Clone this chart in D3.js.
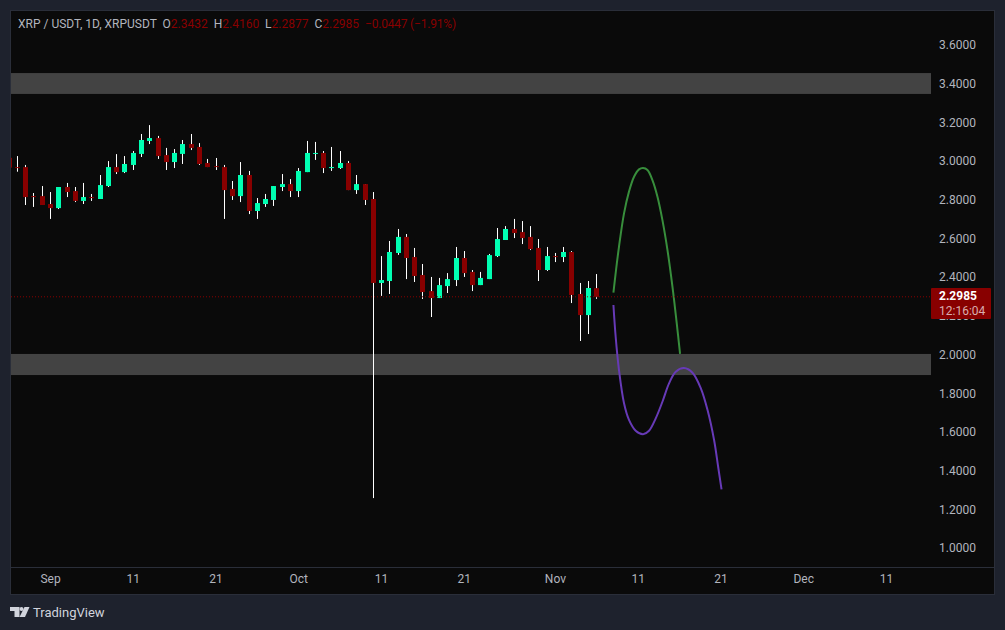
<!DOCTYPE html>
<html>
<head>
<meta charset="utf-8">
<script src="https://cdn.jsdelivr.net/npm/d3@7"></script>
<style>
    html, body { margin: 0; padding: 0; background: #1e222d; }
    svg { display: block; font-family: Roboto, sans-serif; }
    .domain { display: none; }
</style>
</head>
<body>
<svg id="chart" width="1005" height="630"></svg>
<script>
// days are counted from Sep 1, the first candle is cut off by the left edge
const firstDay = -5;
const opens = [3.017,2.969,2.969,2.819,2.819,2.778,2.757,2.866,2.845,2.794,2.814,2.804,2.871,2.969,2.943,2.980,3.037,3.104,3.119,3.031,2.995,3.037,3.088,3.073,2.990,2.974,2.969,2.856,2.819,2.928,2.742,2.778,2.799,2.866,2.881,2.845,2.943,3.037,3.042,2.964,2.964,2.990,2.850,2.881,2.804,2.370,2.380,2.525,2.608,2.504,2.411,2.328,2.292,2.354,2.385,2.499,2.427,2.359,2.390,2.509,2.592,2.649,2.633,2.608,2.551,2.437,2.509,2.504,2.530,2.313,2.204,2.3432];
const closes = [2.966,2.964,2.814,2.814,2.773,2.757,2.866,2.840,2.794,2.814,2.809,2.876,2.969,2.943,2.985,3.042,3.109,3.119,3.026,2.995,3.042,3.088,3.068,2.985,2.969,2.969,2.850,2.819,2.928,2.742,2.783,2.804,2.871,2.881,2.845,2.949,3.042,3.042,2.964,2.969,2.990,2.850,2.881,2.799,2.370,2.385,2.530,2.608,2.499,2.406,2.323,2.292,2.359,2.390,2.499,2.421,2.359,2.396,2.514,2.597,2.649,2.628,2.602,2.545,2.437,2.509,2.504,2.530,2.308,2.204,2.344,2.2985];
const highs = [3.030,3.026,2.980,2.835,2.871,2.840,2.866,2.887,2.866,2.887,2.830,2.928,3.000,3.036,3.026,3.052,3.140,3.186,3.130,3.068,3.062,3.109,3.140,3.093,3.011,3.016,2.980,2.897,2.995,2.949,2.809,2.830,2.871,2.933,2.907,2.964,3.104,3.099,3.052,3.073,3.052,3.000,2.928,2.881,2.840,2.509,2.587,2.649,2.623,2.551,2.468,2.401,2.396,2.421,2.556,2.535,2.437,2.427,2.520,2.654,2.664,2.701,2.690,2.664,2.597,2.556,2.525,2.556,2.535,2.370,2.380,2.4160];
const lows = [2.950,2.945,2.773,2.763,2.773,2.701,2.752,2.814,2.788,2.778,2.794,2.804,2.866,2.933,2.938,2.954,3.021,3.088,3.011,2.954,2.964,2.985,3.057,2.980,2.969,2.954,2.701,2.799,2.788,2.726,2.701,2.763,2.768,2.845,2.814,2.814,2.943,3.006,2.938,2.949,2.959,2.850,2.830,2.773,1.258,2.303,2.313,2.515,2.390,2.375,2.287,2.194,2.292,2.318,2.354,2.401,2.328,2.359,2.390,2.504,2.592,2.602,2.571,2.540,2.380,2.432,2.478,2.478,2.266,2.070,2.106,2.2877];

const lastPrice = 2.2985;
const countdown = "12:16:04";

// drawn zones, as [top, bottom] in price
const zones = [[3.455, 3.347], [2.003, 1.894]];

const greenDays = [68.07,68.34,68.74,69.35,69.95,70.56,71.16,71.65,72.18,72.78,73.39,73.99,74.60,75.20,75.72,76.12];
const greenPrices = [2.320,2.421,2.557,2.730,2.842,2.919,2.957,2.964,2.954,2.902,2.816,2.695,2.540,2.351,2.161,2.003];
const purpleDays = [68.07,68.34,68.74,69.35,69.95,70.76,71.65,72.37,73.18,73.99,74.79,75.60,76.60,77.62,78.63,79.44,80.23,80.72,81.13];
const purplePrices = [2.256,2.092,1.920,1.748,1.662,1.606,1.588,1.606,1.670,1.756,1.851,1.911,1.930,1.906,1.825,1.713,1.558,1.420,1.303];

const priceTicks = [3.6,3.4,3.2,3.0,2.8,2.6,2.4,2.2,2.0,1.8,1.6,1.4,1.2,1.0];
const timeTicks = [0,10,20,30,40,50,61,71,81,91,101];
const timeLabels = ["Sep","11","21","Oct","11","21","Nov","11","21","Dec","11"];

const RED = "#880000", GREEN = "#00ffb2", TEXT = "#b2b5be";
const paneLeft = 11, chartRight = 994, paneTop = 11, paneRight = 931, paneBottom = 567;

const svg = d3.select("#chart");
const x = d3.scaleLinear().domain([0, 101]).range([50, 886]);
const y = d3.scaleLinear().domain([3.6, 1.0]).range([45, 548]);

svg.append("rect").attr("x", 10.5).attr("y", 10.5).attr("width", 984).attr("height", 584)
    .attr("fill", "#0a0a0a").attr("stroke", "#2a2e39");
svg.append("clipPath").attr("id", "pane").append("rect")
    .attr("x", paneLeft).attr("y", paneTop).attr("width", paneRight - paneLeft).attr("height", paneBottom - paneTop);
svg.append("line").attr("x1", paneLeft).attr("x2", chartRight).attr("y1", paneBottom + 0.5).attr("y2", paneBottom + 0.5)
    .attr("stroke", "#2a2e39");

const pane = svg.append("g").attr("clip-path", "url(#pane)");

pane.selectAll("rect.zone").data(zones).enter().append("rect")
    .attr("class", "zone")
    .attr("x", paneLeft).attr("width", paneRight - paneLeft)
    .attr("y", d => y(d[0]))
    .attr("height", d => y(d[1]) - y(d[0]))
    .attr("fill", "#434343");

const candles = opens.map((o, i) => ({day: firstDay + i, o: o, c: closes[i], h: highs[i], l: lows[i]}));
const px = d => Math.round(x(d.day));

pane.selectAll("line.wick").data(candles).enter().append("line")
    .attr("class", "wick")
    .attr("x1", d => px(d) + 0.5).attr("x2", d => px(d) + 0.5)
    .attr("y1", d => y(d.h)).attr("y2", d => y(d.l))
    .attr("stroke", "#ffffff");

pane.selectAll("rect.body").data(candles).enter().append("rect")
    .attr("class", "body")
    .attr("x", d => px(d) - 2).attr("width", 5)
    .attr("y", d => y(Math.max(d.o, d.c)))
    .attr("height", d => Math.max(1, Math.abs(y(d.o) - y(d.c))))
    .attr("fill", d => d.c >= d.o ? GREEN : RED);

const curve = d3.line().x(d => x(d[0])).y(d => y(d[1])).curve(d3.curveCatmullRom);
pane.append("path").datum(d3.zip(greenDays, greenPrices))
    .attr("d", curve).attr("fill", "none").attr("stroke", "#388e3c").attr("stroke-width", 2);
pane.append("path").datum(d3.zip(purpleDays, purplePrices))
    .attr("d", curve).attr("fill", "none").attr("stroke", "#673ab7").attr("stroke-width", 2);

pane.append("line")
    .attr("x1", paneLeft).attr("x2", paneRight)
    .attr("y1", y(lastPrice)).attr("y2", y(lastPrice))
    .attr("stroke", RED).attr("stroke-dasharray", "1 2");

const yAxis = d3.axisRight(y).tickValues(priceTicks).tickFormat(d3.format(".4f")).tickSize(0).tickPadding(8);
svg.append("g").attr("transform", `translate(${paneRight},0)`).call(yAxis)
    .call(g => g.selectAll("text").attr("fill", TEXT).style("font-size", "12px").style("font-family", "Roboto, sans-serif"));

const xAxis = d3.axisBottom(x).tickValues(timeTicks).tickFormat((d, i) => timeLabels[i]).tickSize(0).tickPadding(7);
svg.append("g").attr("transform", `translate(0,${paneBottom})`).call(xAxis)
    .call(g => g.selectAll("text").attr("fill", TEXT).style("font-size", "12px").style("font-family", "Roboto, sans-serif"));

// last price label sits on top of the axis
svg.append("rect").attr("x", paneRight).attr("y", 288).attr("width", 60).attr("height", 31).attr("rx", 1).attr("fill", RED);
svg.append("text").attr("x", 939).attr("y", 300).attr("fill", "#ffffff")
    .style("font-size", "12px").style("font-weight", 700).text(d3.format(".4f")(lastPrice));
svg.append("text").attr("x", 939).attr("y", 315).attr("fill", "#d9aeae")
    .style("font-size", "12px").text(countdown);

const header = svg.append("text").attr("x", 18).attr("y", 28).style("font-size", "12px").attr("xml:space", "preserve");
[["XRP / USDT, 1D, XRPUSDT  O", TEXT], ["2.3432", RED], ["  H", TEXT], ["2.4160", RED], ["  L", TEXT], ["2.2877", RED],
 ["  C", TEXT], ["2.2985", RED]].forEach(p => {
    header.append("tspan").attr("fill", p[1]).text(p[0]);
});
header.append("tspan").attr("x", 365).attr("fill", RED).style("letter-spacing", "-0.2px").text("−0.0447 (−1.91%)");

const logo = svg.append("g").attr("fill", "#d1d4dc");
logo.append("path").attr("d", "M10 607h9.5v10h-5v-6h-4.500z");
logo.append("circle").attr("cx", 21.5).attr("cy", 609).attr("r", 2);
logo.append("path").attr("d", "M24.500 607h5l-4.500 10h-5.500z");
svg.append("text").attr("x", 33).attr("y", 617).attr("fill", "#d1d4dc").style("font-size", "13px").text("TradingView");
</script>
</body>
</html>
